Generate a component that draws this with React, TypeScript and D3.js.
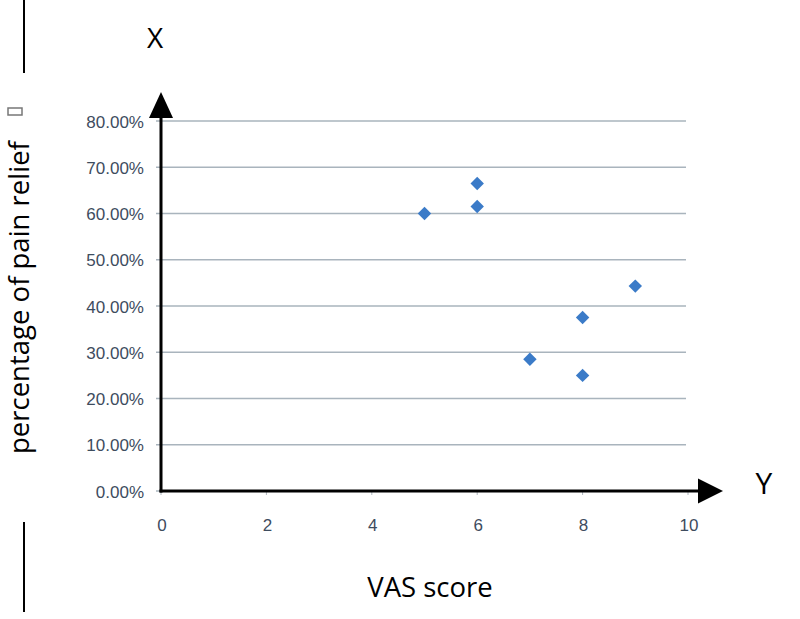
import React from "react";
import * as d3 from "d3";

const vasScores = [5, 6, 6, 7, 8, 8, 9];
const painRelief = [0.6, 0.665, 0.615, 0.285, 0.375, 0.25, 0.443];
const yTicks = [0, 0.1, 0.2, 0.3, 0.4, 0.5, 0.6, 0.7, 0.8];
const xTicks = [0, 2, 4, 6, 8, 10];

export default function App() {
  const W = 800, H = 619;
  const x = d3.scaleLinear().domain([0, 10]).range([161, 688]);
  const y = d3.scaleLinear().domain([0, 0.8]).range([491, 121]);
  const fmt = (v: number) => (v * 100).toFixed(2) + "%";
  const diamond = d3.symbol().type(d3.symbolDiamond2).size(115)() as string;
  const x0 = x(0), y0 = y(0);
  const tickFont = "Liberation Sans, Arial";
  return (
    <svg width={W} height={H} style={{ position: "absolute", left: 0, top: 0, background: "#fff" }}>
      <rect x={0} y={0} width={W} height={H} fill="#fff" />
      {yTicks.map((t) => (
        <g key={t}>
          <line x1={x0 - 5} x2={x(10) - 2} y1={y(t)} y2={y(t)} stroke="#a9b4bd" strokeWidth={1.5} />
          <text x={144} y={y(t) + 6.5} textAnchor="end" fontFamily={tickFont} fontSize={17} fill="#3e4c5e">
            {fmt(t)}
          </text>
        </g>
      ))}
      {xTicks.map((t) => (
        <g key={t}>
          <line x1={x(t)} x2={x(t)} y1={y0} y2={y0 + 4} stroke="#b0b8c0" />
          <text x={x(t) + 1} y={531} textAnchor="middle" fontFamily={tickFont} fontSize={17} fill="#3e4c5e">
            {t}
          </text>
        </g>
      ))}
      <line x1={x0} x2={x0} y1={y0 + 1.5} y2={116} stroke="#000" strokeWidth={3} />
      <path d={`M${x0 - 12},118 L${x0},92 L${x0 + 12},118 Z`} fill="#000" />
      <line x1={x0 - 1.5} x2={700} y1={y0} y2={y0} stroke="#000" strokeWidth={3} />
      <path d={`M698,${y0 - 12.5} L723,${y0} L698,${y0 + 12.5} Z`} fill="#000" />
      {vasScores.map((v, i) => (
        <path key={i} d={diamond} transform={`translate(${x(v)},${y(painRelief[i])})`} fill="#3b7bc8" />
      ))}
      <text x={155} y={48} textAnchor="middle" fontFamily="Open Sans, Liberation Sans" fontSize={28} fill="#000">X</text>
      <text x={764} y={494} textAnchor="middle" fontFamily="Open Sans, Liberation Sans" fontSize={30} fill="#000">Y</text>
      <text x={430} y={597} textAnchor="middle" fontFamily="Open Sans, Liberation Sans" fontSize={27.5} fill="#000">VAS score</text>
      <g transform="translate(29,454) rotate(-90)">
        <text x={0} y={0} textAnchor="start" fontFamily="Open Sans, Liberation Sans" fontSize={27.5} fill="#000">percentage of pain relief</text>
      </g>
      <rect x={8} y={108} width={14} height={7} fill="none" stroke="#777" strokeWidth={1.5} />
      <line x1={24} x2={24} y1={0} y2={73} stroke="#000" strokeWidth={2} />
      <line x1={24} x2={24} y1={522} y2={612} stroke="#000" strokeWidth={2} />
    </svg>
  );
}
